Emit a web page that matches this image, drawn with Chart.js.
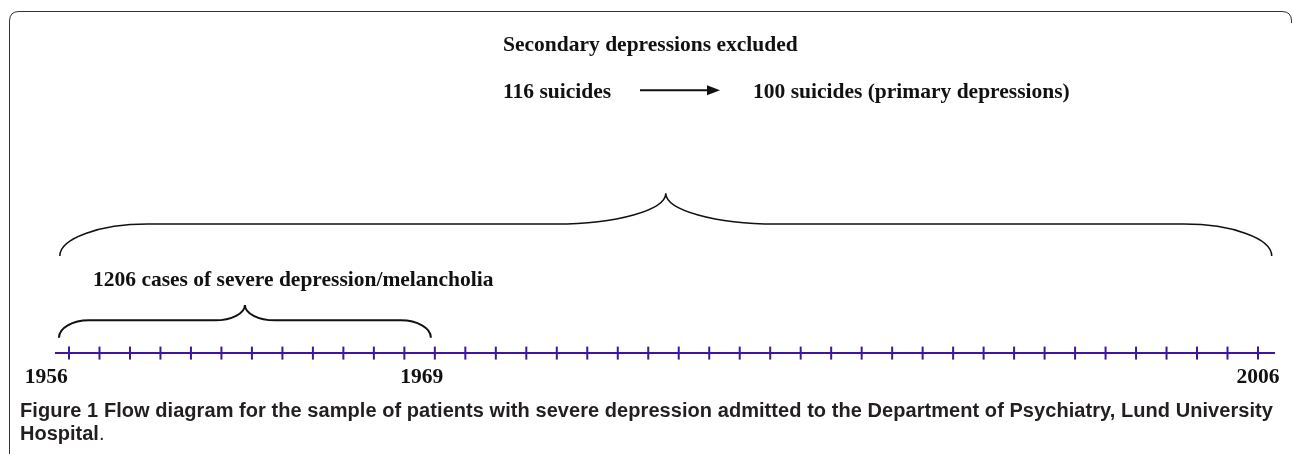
<!DOCTYPE html>
<html>
<head>
<meta charset="utf-8">
<script src="https://cdn.jsdelivr.net/npm/chart.js@4.4.1/dist/chart.umd.min.js"></script>
<style>
    html, body { margin: 0; padding: 0; background: #fff; }
    body { width: 1293px; height: 454px; position: relative; overflow: hidden; }
    .frame { position: absolute; left: 0; top: 0; }
    #wrap { position: absolute; left: 0; top: 0; width: 1293px; height: 454px; }
    .caption {
        position: absolute; left: 20px; top: 399px; width: 1253px;
        font-family: 'Liberation Sans', Arial, sans-serif; font-weight: bold;
        font-size: 20px; line-height: 23px; color: #231f20;
    }
    .caption .l1 { white-space: nowrap; }
</style>
</head>
<body>
<svg class="frame" width="1293" height="454">
    <path d="M9.5 454 L9.5 21 Q9.5 11.5 19 11.5 L1282 11.5 Q1291.5 11.5 1291.5 21 L1291.5 23"
          fill="none" stroke="#333" stroke-width="1"/>
</svg>
<div id="wrap"><canvas id="diagram" width="1293" height="454"></canvas></div>
<div class="caption">
    <div class="l1"><span id="capLine">Figure 1 Flow diagram for the sample of patients with severe depression admitted to the Department of Psychiatry, Lund University</span></div>
    <div>Hospital<span style="font-weight:normal">.</span></div>
</div>
<script>
// Timeline tick marks (position along the timeline, one per mark)
const tickPositions = [0, 1, 2, 3, 4, 5, 6, 7, 8, 9, 10, 11, 12, 13, 14, 15, 16, 17, 18, 19,
    20, 21, 22, 23, 24, 25, 26, 27, 28, 29, 30, 31, 32, 33, 34, 35, 36, 37, 38, 39];
const timelineSpan = [-0.46, 39.56];

// Year labels and where they sit on the timeline
const yearLabels = ['1956', '1969', '2006'];
const yearPositions = [-0.75, 11.57, 39];

// Periods shown with braces
const periodStart = [-0.3, -0.33];
const periodEnd = [39.45, 11.87];
const periodLabels = ['', '1206 cases of severe depression/melancholia'];

// Suicide counts
const suicideCounts = [116, 100];
const suicideLabels = ['116 suicides', '100 suicides (primary depressions)'];
const exclusionNote = 'Secondary depressions excluded';

const purple = '#3f159e';
const serifBold = 'bold 21.5px "Liberation Serif", "Times New Roman", serif';

// Layout rows (pixel rows on the y scale)
const row = {
    note: 38, counts: 87, bigBrace: [257, 224, 192], caseText: 283,
    smallBrace: [342, 324, 308], timeline: 358, years: 383
};

function drawBrace(ctx, x1, x2, yEnd, yMid, yTip, rEnd, rTip, width) {
    const xc = (x1 + x2) / 2;
    const h = yEnd - yMid;
    const h2 = yMid - yTip;
    ctx.save();
    ctx.strokeStyle = '#111';
    ctx.lineWidth = width;
    ctx.beginPath();
    ctx.moveTo(x1, yEnd);
    ctx.bezierCurveTo(x1, yEnd - h * 0.55, x1 + rEnd * 0.45, yMid, x1 + rEnd, yMid);
    ctx.lineTo(xc - rTip, yMid);
    ctx.bezierCurveTo(xc - rTip * 0.45, yMid, xc, yTip + h2 * 0.55, xc, yTip);
    ctx.bezierCurveTo(xc, yTip + h2 * 0.55, xc + rTip * 0.45, yMid, xc + rTip, yMid);
    ctx.lineTo(x2 - rEnd, yMid);
    ctx.bezierCurveTo(x2 - rEnd * 0.45, yMid, x2, yEnd - h * 0.55, x2, yEnd);
    ctx.stroke();
    ctx.restore();
}

const diagramPlugin = {
    id: 'diagram',
    afterDatasetsDraw(chart) {
        const ctx = chart.ctx;
        const x = chart.scales.x;
        const y = chart.scales.y;

        // braces
        drawBrace(ctx, x.getPixelForValue(periodStart[0]), x.getPixelForValue(periodEnd[0]),
            y.getPixelForValue(row.bigBrace[0]), y.getPixelForValue(row.bigBrace[1]),
            y.getPixelForValue(row.bigBrace[2]), 88, 110, 1.5);
        drawBrace(ctx, x.getPixelForValue(periodStart[1]), x.getPixelForValue(periodEnd[1]),
            y.getPixelForValue(row.smallBrace[0]), y.getPixelForValue(row.smallBrace[1]),
            y.getPixelForValue(row.smallBrace[2]), 30, 30, 2);

        ctx.save();
        ctx.fillStyle = '#111';
        ctx.font = serifBold;
        ctx.textBaseline = 'middle';

        // year labels
        ctx.textAlign = 'center';
        yearLabels.forEach((lbl, i) => {
            ctx.fillText(lbl, x.getPixelForValue(yearPositions[i]), y.getPixelForValue(row.years));
        });

        // period label
        ctx.textAlign = 'left';
        ctx.fillText(periodLabels[1], 93, y.getPixelForValue(row.caseText));

        // top notes
        ctx.fillText(exclusionNote, 503, y.getPixelForValue(row.note));
        ctx.fillText(suicideLabels[0], 503, y.getPixelForValue(row.counts));
        ctx.fillText(suicideLabels[1], 753, y.getPixelForValue(row.counts));

        // arrow 116 -> 100
        const ay = y.getPixelForValue(row.counts) - 2;
        ctx.strokeStyle = '#111';
        ctx.lineWidth = 2;
        ctx.beginPath();
        ctx.moveTo(640, ay);
        ctx.lineTo(710, ay);
        ctx.stroke();
        ctx.beginPath();
        ctx.moveTo(720, ay);
        ctx.lineTo(707, ay - 5);
        ctx.lineTo(707, ay + 5);
        ctx.closePath();
        ctx.fill();
        ctx.restore();
    }
};

document.addEventListener('DOMContentLoaded', function() {
    // Stretch first caption line to the full width
    const cap = document.getElementById('capLine');
    const natural = cap.getBoundingClientRect().width;
    const chars = cap.textContent.length;
    cap.style.letterSpacing = ((1253 - natural) / chars) + 'px';

    const ctx = document.getElementById('diagram');
    new Chart(ctx, {
        type: 'scatter',
        data: {
            datasets: [{
                type: 'line',
                data: timelineSpan.map(v => ({ x: v, y: row.timeline })),
                borderColor: purple,
                borderWidth: 2,
                pointRadius: 0,
                clip: false
            }, {
                type: 'scatter',
                data: tickPositions.map(v => ({ x: v, y: row.timeline })),
                pointStyle: 'line',
                rotation: 90,
                radius: 6.5,
                borderWidth: 2,
                borderColor: purple,
                clip: false
            }]
        },
        options: {
            responsive: false,
            animation: false,
            events: [],
            layout: { padding: { left: 69, right: 35, top: 0, bottom: 0 } },
            plugins: {
                legend: { display: false },
                tooltip: { enabled: false }
            },
            scales: {
                x: { type: 'linear', min: 0, max: 39, display: false },
                y: { type: 'linear', min: 0, max: 454, reverse: true, display: false }
            }
        },
        plugins: [diagramPlugin]
    });
});
</script>
</body>
</html>
